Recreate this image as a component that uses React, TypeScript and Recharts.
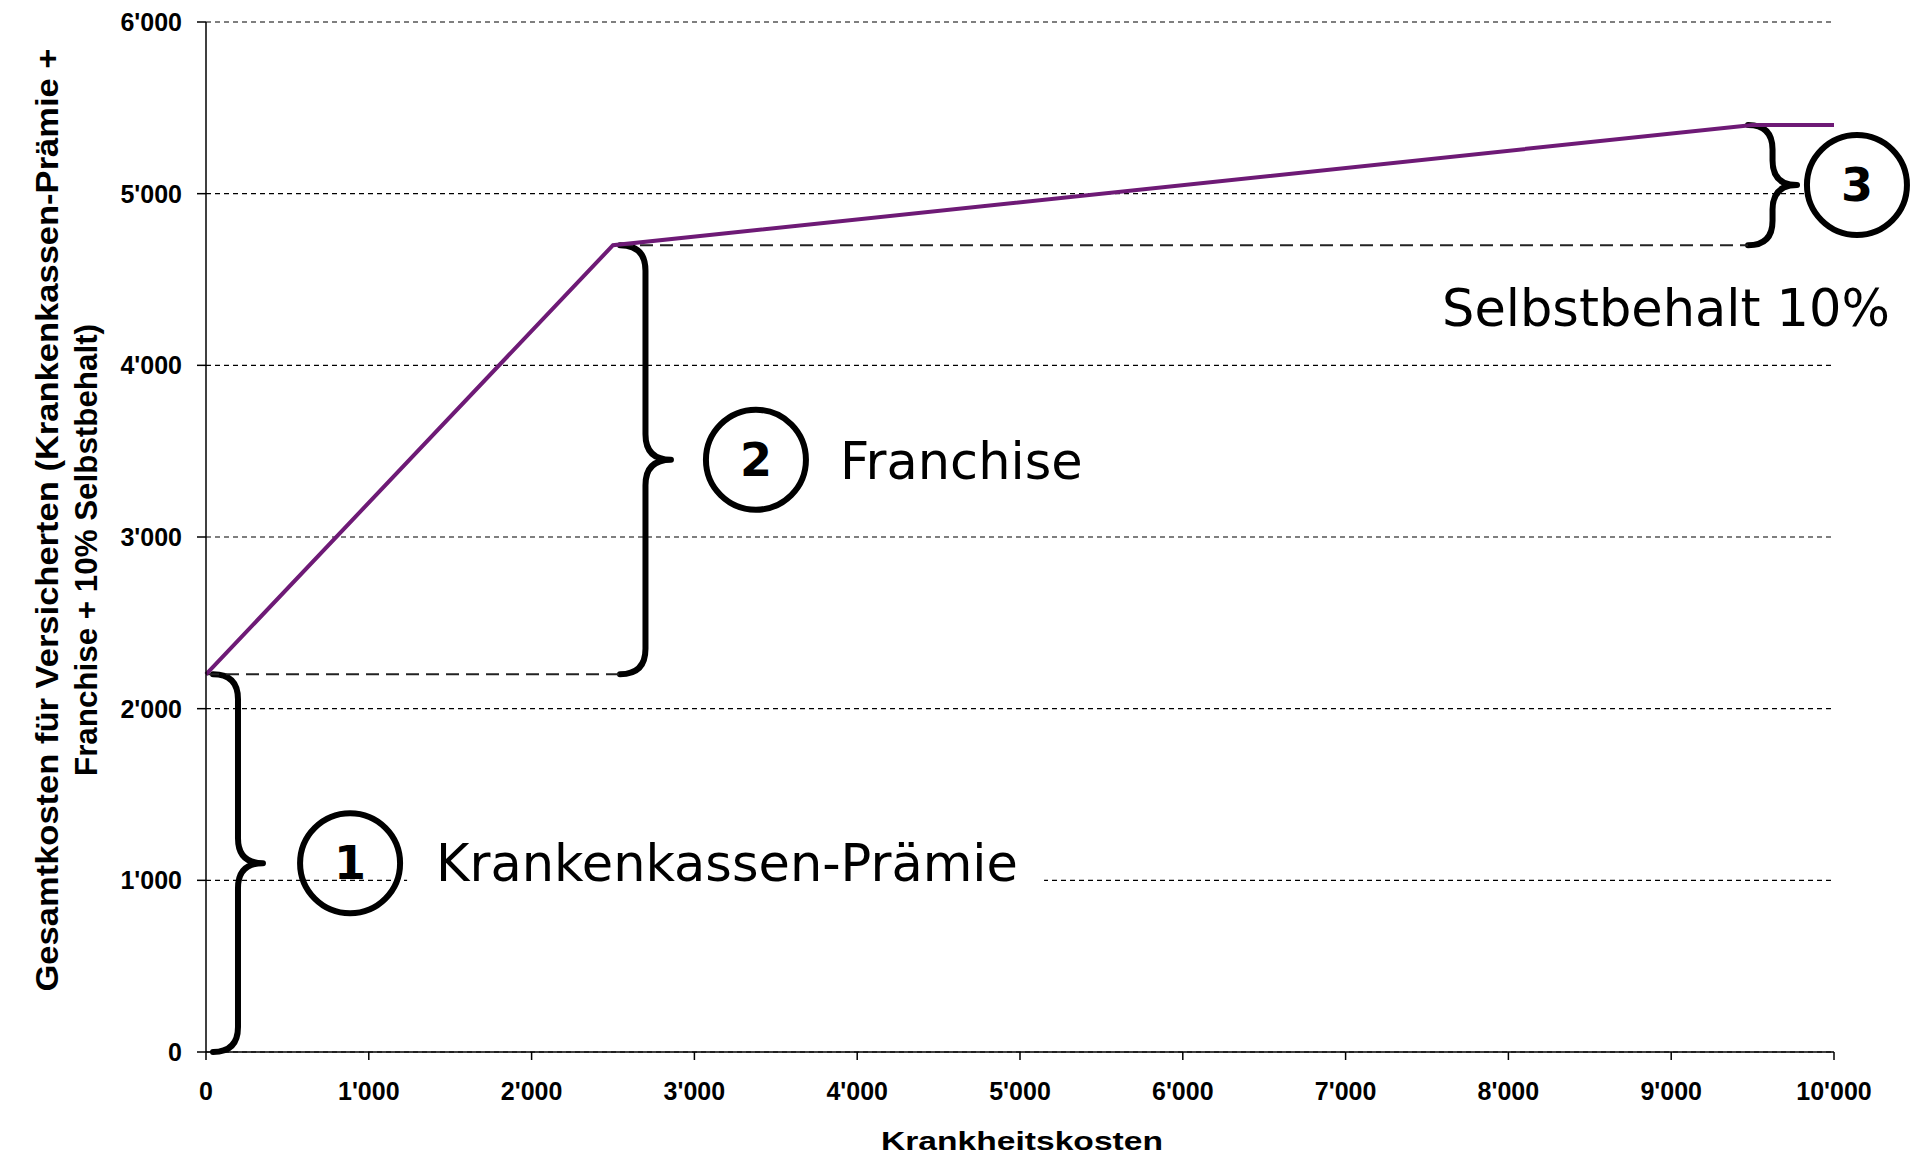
import {
  CartesianGrid,
  Line,
  LineChart,
  ReferenceArea,
  ReferenceDot,
  ReferenceLine,
  XAxis,
  YAxis,
} from 'recharts';

// Krankheitskosten (x) -> Gesamtkosten für Versicherte (y)
const costs = [0, 2500, 9500, 10000];
const totals = [2200, 4700, 5400, 5400];

const xTicks = [0, 1000, 2000, 3000, 4000, 5000, 6000, 7000, 8000, 9000, 10000];
const yTicks = [0, 1000, 2000, 3000, 4000, 5000, 6000];

// braces: vertical span (total costs) and horizontal extent (cost units)
const braceLow = [0, 2200, 4700];
const braceHigh = [2200, 4700, 5400];
const braceLeft = [43, 2543, 9472];
const braceRight = [350, 2856, 9773];

// circled numbers and their captions
const markerX = [885, 3378, 10141];
const markerY = [1100, 3450, 5050];
const markerText = ['1', '2', '3'];
const captions = ['Krankenkassen-Prämie', 'Franchise', 'Selbstbehalt 10%'];

// dashed helper lines at the brace ends
const helperY = [2200, 4700];
const helperFrom = [0, 2543];
const helperTo = [2555, 9472];

const data = costs.map((c, i) => ({ cost: c, total: totals[i] }));

const AXIS_FONT = 'Liberation Sans, Arial, sans-serif';
const NOTE_FONT = 'DejaVu Sans, Verdana, sans-serif';

const fmt = (v: number) =>
  v >= 1000 ? `${Math.floor(v / 1000)}'${String(v % 1000).padStart(3, '0')}` : String(v);

function Brace(props: any) {
  const { x, y, width, height } = props;
  const r = width / 2;
  const s = x + r;
  const tip = x + width;
  const top = y;
  const bot = y + height;
  const mid = y + height / 2;
  const d = `M${x},${top} Q${s},${top} ${s},${top + r} L${s},${mid - r} Q${s},${mid} ${tip},${mid} Q${s},${mid} ${s},${mid + r} L${s},${bot - r} Q${s},${bot} ${x},${bot}`;
  return (
    <path d={d} fill="none" stroke="#000" strokeWidth={6} strokeLinecap="round" strokeLinejoin="round" />
  );
}

const marker = (i: number) => (props: any) => {
  const { cx, cy } = props;
  return (
    <g>
      <circle cx={cx} cy={cy} r={50} fill={i === 2 ? '#fff' : 'none'} stroke="#000" strokeWidth={6} />
      <text
        x={cx}
        y={cy}
        textAnchor="middle"
        dominantBaseline="central"
        fontFamily={NOTE_FONT}
        fontWeight="bold"
        fontSize={46}
        fill="#000"
      >
        {markerText[i]}
      </text>
      {i === 0 && (
        <g>
          <rect x={cx + 57} y={cy - 42} width={637} height={84} fill="#fff" />
          <text x={cx + 86} y={cy + 18} fontFamily={NOTE_FONT} fontSize={51} fill="#000">
            {captions[0]}
          </text>
        </g>
      )}
      {i === 1 && (
        <text x={cx + 84} y={cy + 19} fontFamily={NOTE_FONT} fontSize={51} fill="#000">
          {captions[1]}
        </text>
      )}
      {i === 2 && (
        <text x={cx + 33} y={cy + 141} textAnchor="end" fontFamily={NOTE_FONT} fontSize={51} fill="#000">
          {captions[2]}
        </text>
      )}
    </g>
  );
};

const yLabel = (props: any) => {
  const vb = props.viewBox || { x: 0, y: 22, width: 206, height: 1030 };
  const cy = vb.y + vb.height / 2;
  const common = {
    textAnchor: 'middle' as const,
    dominantBaseline: 'central' as const,
    fontFamily: AXIS_FONT,
    fontWeight: 'bold',
    fontSize: 31,
    fill: '#000',
    lengthAdjust: 'spacingAndGlyphs',
  };
  return (
    <g>
      <text transform={`translate(${vb.x + 47},${cy - 17}) rotate(-90)`} textLength={943} {...common}>
        Gesamtkosten für Versicherten (Krankenkassen-Prämie +
      </text>
      <text transform={`translate(${vb.x + 86},${cy + 13}) rotate(-90)`} textLength={452} {...common}>
        Franchise + 10% Selbstbehalt)
      </text>
    </g>
  );
};

const xLabel = (props: any) => {
  const vb = props.viewBox || { x: 206, y: 1052, width: 1628, height: 111 };
  return (
    <text
      x={vb.x + vb.width / 2 + 2}
      y={vb.y + 98}
      textAnchor="middle"
      fontFamily={AXIS_FONT}
      fontWeight="bold"
      fontSize={26}
      fill="#000"
      textLength={282}
      lengthAdjust="spacingAndGlyphs"
    >
      Krankheitskosten
    </text>
  );
};

export default function App() {
  return (
    <div style={{ position: 'absolute', left: 0, top: 0, background: '#fff' }}>
      <LineChart width={1915} height={1163} data={data} margin={{ top: 22, right: 81, left: 0, bottom: 0 }}>
        <CartesianGrid vertical={false} stroke="#000" strokeWidth={1.2} strokeDasharray="5 4" />
        <XAxis
          dataKey="cost"
          type="number"
          domain={[0, 10000]}
          ticks={xTicks}
          interval={0}
          tickFormatter={fmt}
          height={111}
          tickSize={8}
          tickMargin={22}
          axisLine={{ stroke: '#000', strokeWidth: 1.5 }}
          tickLine={{ stroke: '#000', strokeWidth: 1.5 }}
          tick={{ fill: '#000', fontSize: 25, fontWeight: 'bold', fontFamily: AXIS_FONT }}
          label={{ content: xLabel }}
        />
        <YAxis
          type="number"
          domain={[0, 6000]}
          ticks={yTicks}
          interval={0}
          tickFormatter={fmt}
          width={206}
          tickSize={9}
          tickMargin={15}
          axisLine={{ stroke: '#000', strokeWidth: 1.5 }}
          tickLine={{ stroke: '#000', strokeWidth: 1.5 }}
          tick={{ fill: '#000', fontSize: 25, fontWeight: 'bold', fontFamily: AXIS_FONT }}
          label={{ content: yLabel }}
        />
        {helperY.map((y, i) => (
          <ReferenceLine
            key={`h${i}`}
            segment={[
              { x: helperFrom[i], y },
              { x: helperTo[i], y },
            ]}
            stroke="#222"
            strokeWidth={2}
            strokeDasharray="13 7"
            ifOverflow="visible"
          />
        ))}
        {braceLow.map((lo, i) => (
          <ReferenceArea
            key={`b${i}`}
            x1={braceLeft[i]}
            x2={braceRight[i]}
            y1={lo}
            y2={braceHigh[i]}
            ifOverflow="visible"
            shape={Brace}
          />
        ))}
        <Line
          type="linear"
          dataKey="total"
          stroke="#6e1a76"
          strokeWidth={4}
          dot={false}
          activeDot={false}
          isAnimationActive={false}
        />
        {markerX.map((mx, i) => (
          <ReferenceDot key={`m${i}`} x={mx} y={markerY[i]} r={50} ifOverflow="visible" shape={marker(i)} />
        ))}
      </LineChart>
    </div>
  );
}
